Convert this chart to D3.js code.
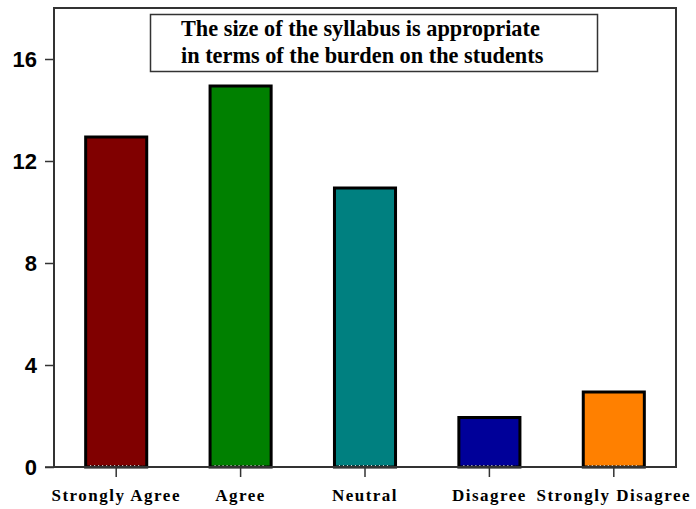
<!DOCTYPE html>
<html>
<head>
<meta charset="utf-8">
<script src="https://cdn.jsdelivr.net/npm/d3@7"></script>
<style>
  html, body { margin: 0; padding: 0; background: #fff; }
  svg { display: block; }
</style>
</head>
<body>
<svg id="chart" width="696" height="509"></svg>
<script>
// Survey responses
const categories = ["Strongly Agree", "Agree", "Neutral", "Disagree", "Strongly Disagree"];
const counts = [13, 15, 11, 2, 3];
const barColors = ["#800000", "#008000", "#008080", "#000099", "#ff8000"];
const yTicks = [0, 4, 8, 12, 16];
const titleLines = ["The size of the syllabus is appropriate", "in terms of the burden on the students"];

const svg = d3.select("#chart");
const margin = { left: 54, right: 20, top: 8, bottom: 42 };
const W = 696, H = 509;
const plotW = W - margin.left - margin.right;
const plotH = H - margin.top - margin.bottom;

const x = d3.scaleBand().domain(categories).range([0, plotW]).paddingInner(0.485).paddingOuter(0.2425);
const y = d3.scaleLinear().domain([0, 18]).range([plotH, 0]);

const g = svg.append("g").attr("transform", `translate(${margin.left},${margin.top})`);

// Bars
g.selectAll("rect.bar").data(counts).join("rect")
  .attr("class", "bar")
  .attr("x", (d, i) => x(categories[i]) + 1.5)
  .attr("y", d => y(d) + 1.5)
  .attr("width", x.bandwidth() - 3)
  .attr("height", d => plotH - y(d) - 1.5)
  .attr("fill", (d, i) => barColors[i])
  .attr("stroke", "#000")
  .attr("stroke-width", 3);

// Light dotted seam along the bar bottoms
g.selectAll("line.seam").data(counts).join("line")
  .attr("class", "seam")
  .attr("x1", (d, i) => x(categories[i]) + 6)
  .attr("x2", (d, i) => x(categories[i]) + x.bandwidth() - 6)
  .attr("y1", plotH - 1.5).attr("y2", plotH - 1.5)
  .attr("stroke", "#ddd").attr("stroke-width", 1).attr("stroke-dasharray", "1,3");

// Frame
g.append("rect").attr("x", 0).attr("y", 0).attr("width", plotW).attr("height", plotH)
  .attr("fill", "none").attr("stroke", "#333").attr("stroke-width", 2);

// Y axis
const yAxis = g.append("g").call(d3.axisLeft(y).tickValues(yTicks).tickSize(9).tickPadding(8).tickFormat(d3.format("d")));
yAxis.select(".domain").remove();
yAxis.selectAll(".tick line").attr("stroke", "#333").attr("stroke-width", 1.5);
yAxis.selectAll("text").attr("font-family", "'Liberation Sans', Arial, sans-serif")
  .attr("font-weight", "bold").attr("font-size", 22).attr("fill", "#000");

// X axis
const xAxis = g.append("g").attr("transform", `translate(0,${plotH})`)
  .call(d3.axisBottom(x).tickSize(10).tickPadding(12));
xAxis.select(".domain").remove();
xAxis.selectAll(".tick line").attr("stroke", "#333").attr("stroke-width", 1.5);
xAxis.selectAll("text").attr("font-family", "'Liberation Serif', 'Times New Roman', serif")
  .attr("font-weight", "bold").attr("font-size", 17).attr("letter-spacing", 1.5).attr("fill", "#000");

// Bottom baseline extending slightly left of the frame
g.append("line").attr("x1", -9).attr("x2", 0).attr("y1", plotH).attr("y2", plotH)
  .attr("stroke", "#333").attr("stroke-width", 1.5);

// Title box
const box = svg.append("g");
box.append("rect").attr("x", 150.5).attr("y", 14.5).attr("width", 447).attr("height", 57)
  .attr("fill", "#fff").attr("stroke", "#333").attr("stroke-width", 1.5);
box.selectAll("text").data(titleLines).join("text")
  .attr("x", 181).attr("y", (d, i) => 36 + i * 27)
  .attr("font-family", "'Liberation Serif', 'Times New Roman', serif")
  .attr("font-weight", "bold").attr("font-size", 22.3).attr("fill", "#000")
  .text(d => d);
</script>
</body>
</html>
